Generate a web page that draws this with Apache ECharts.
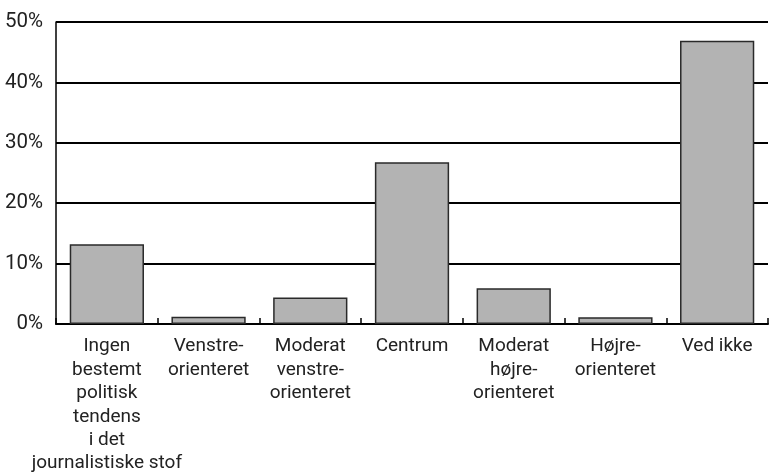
<!DOCTYPE html>
<html>
<head>
<meta charset="utf-8">
<script src="https://cdn.jsdelivr.net/npm/echarts@6/dist/echarts.min.js"></script>
<style>
  html, body { margin: 0; padding: 0; background: #fff; }
  #chart { width: 769px; height: 473px; }
</style>
</head>
<body>
<div id="chart"></div>
<script>
// kategorier (linjeskift som i originalen)
const categories = [
  'Ingen\nbestemt\npolitisk\ntendens\ni det\njournalistiske stof',
  'Venstre-\norienteret',
  'Moderat\nvenstre-\norienteret',
  'Centrum',
  'Moderat\nhøjre-\norienteret',
  'Højre-\norienteret',
  'Ved ikke'
]
const values = [13.2, 1.2, 4.4, 26.8, 5.9, 1.1, 46.9]
const yTicks = [0, 10, 20, 30, 40, 50]

const fontFamily = 'Roboto, sans-serif'

const chart = echarts.init(document.getElementById('chart'), null, { renderer: 'canvas' })

const option = {
  animation: false,
  grid: {
    left: 56,
    right: 1,
    top: 22,
    bottom: 149,
    containLabel: false,
    outerBoundsMode: 'none'
  },
  xAxis: {
    type: 'category',
    data: categories,
    axisLine: { lineStyle: { color: '#000', width: 2 } },
    axisTick: {
      show: true,
      inside: true,
      length: 6,
      lineStyle: { color: '#000', width: 1.5 }
    },
    axisLabel: {
      interval: 0,
      color: '#222',
      fontFamily: fontFamily,
      fontSize: 19,
      lineHeight: 23.4,
      margin: 11
    }
  },
  yAxis: {
    type: 'value',
    min: yTicks[0],
    max: yTicks[yTicks.length - 1],
    interval: 10,
    axisLine: { show: true, lineStyle: { color: '#000', width: 1.5 } },
    axisTick: { show: false },
    splitLine: { lineStyle: { color: '#000', width: 1.8 } },
    axisLabel: {
      color: '#222',
      fontFamily: fontFamily,
      fontSize: 20.5,
      margin: 13,
      formatter: '{value}%'
    }
  },
  series: [
    {
      type: 'bar',
      data: values,
      barWidth: '73%',
      itemStyle: {
        color: '#b3b3b3',
        borderColor: '#2a2a2a',
        borderWidth: 1.5
      }
    }
  ]
}

chart.setOption(option)
</script>
</body>
</html>
